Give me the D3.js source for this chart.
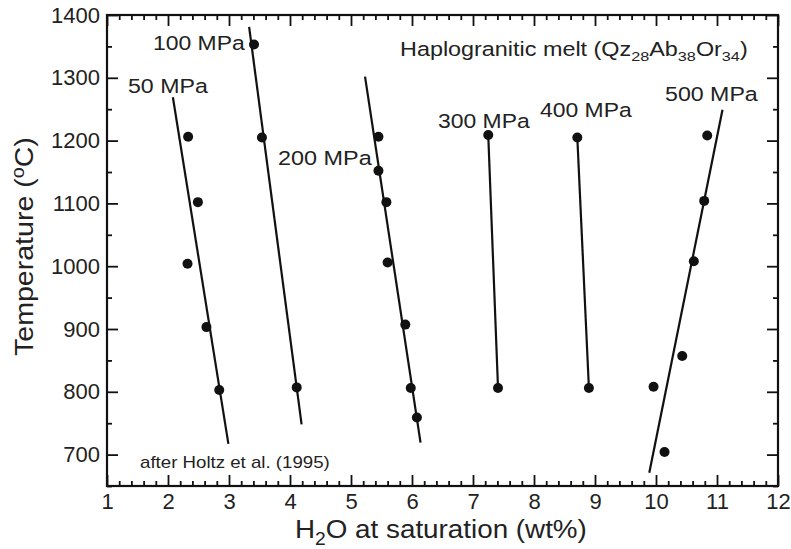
<!DOCTYPE html>
<html>
<head>
<meta charset="utf-8">
<script src="https://cdn.jsdelivr.net/npm/d3@7"></script>
<style>
  html, body { margin: 0; padding: 0; background: #fff; }
  svg { display: block; font-family: "Liberation Sans", Arial, Helvetica, sans-serif; }
</style>
</head>
<body>
<svg id="chart" width="791" height="549"></svg>
<script>
// ---------------- data ----------------
const xTickValues = [1, 2, 3, 4, 5, 6, 7, 8, 9, 10, 11, 12];
const yTickValues = [700, 800, 900, 1000, 1100, 1200, 1300, 1400];
const pressureLabels = ["50 MPa", "100 MPa", "200 MPa", "300 MPa", "400 MPa", "500 MPa"];

// measured points (H2O wt%, T °C)
const water50  = [2.33, 2.49, 2.32, 2.63, 2.84];
const temp50   = [1206, 1102, 1004, 903, 803];
const water100 = [3.41, 3.54, 4.11];
const temp100  = [1353, 1205, 807];
const water200 = [5.45, 5.45, 5.58, 5.60, 5.89, 5.98, 6.08];
const temp200  = [1206, 1152, 1102, 1006, 907, 806, 759];
const water300 = [7.25, 7.41];
const temp300  = [1209, 806];
const water400 = [8.71, 8.90];
const temp400  = [1205, 806];
const water500 = [10.84, 10.79, 10.62, 10.43, 9.96, 10.14];
const temp500  = [1208, 1104, 1008, 857, 808, 704];

// fitted lines: endpoints (H2O wt%, T °C)
const lineWater50  = [2.08, 2.99];  const lineTemp50  = [1269, 717];
const lineWater100 = [3.33, 4.19];  const lineTemp100 = [1381, 748];
const lineWater200 = [5.23, 6.14];  const lineTemp200 = [1302, 719];
const lineWater300 = [7.25, 7.41];  const lineTemp300 = [1209, 806];
const lineWater400 = [8.71, 8.90];  const lineTemp400 = [1205, 806];
const lineWater500 = [11.09, 9.89]; const lineTemp500 = [1249, 671];

const seriesWater = [water50, water100, water200, water300, water400, water500];
const seriesTemp  = [temp50, temp100, temp200, temp300, temp400, temp500];
const linesWater  = [lineWater50, lineWater100, lineWater200, lineWater300, lineWater400, lineWater500];
const linesTemp   = [lineTemp50, lineTemp100, lineTemp200, lineTemp300, lineTemp400, lineTemp500];

// ---------------- layout ----------------
const L = 107, R = 778, T = 15, B = 486;
const ink = "#111", textInk = "#222";

const svg = d3.select("#chart");
const x = d3.scaleLinear().domain([1, 12]).range([L, R]);
const y = d3.scaleLinear().domain([650, 1400]).range([B, T]);

const xMinor = d3.range(1, 12.001, 0.2).map(v => +v.toFixed(2)).filter(v => Math.abs(v - Math.round(v)) > 1e-6);
const yMinor = d3.range(650, 1400, 100);

function styleAxis(g) {
  g.select(".domain").remove();
  g.selectAll(".tick line").attr("stroke", ink).attr("stroke-width", 1.8);
  g.selectAll(".tick text").attr("fill", textInk).style("font-size", "22px")
    .style("font-family", '"Liberation Sans", Arial, sans-serif');
}

// bottom
svg.append("g").attr("transform", `translate(0,${B})`)
  .call(d3.axisBottom(x).tickValues(xTickValues).tickFormat(d3.format("d")).tickSize(-11).tickPadding(7))
  .call(styleAxis);
svg.append("g").attr("transform", `translate(0,${B})`)
  .call(d3.axisBottom(x).tickValues(xMinor).tickFormat("").tickSize(-5))
  .call(styleAxis);
// top
svg.append("g").attr("transform", `translate(0,${T})`)
  .call(d3.axisTop(x).tickValues(xTickValues).tickFormat("").tickSize(-11))
  .call(styleAxis);
svg.append("g").attr("transform", `translate(0,${T})`)
  .call(d3.axisTop(x).tickValues(xMinor).tickFormat("").tickSize(-5))
  .call(styleAxis);
// left
svg.append("g").attr("transform", `translate(${L},0)`)
  .call(d3.axisLeft(y).tickValues(yTickValues).tickFormat(d3.format("d")).tickSize(-11).tickPadding(7))
  .call(styleAxis);
svg.append("g").attr("transform", `translate(${L},0)`)
  .call(d3.axisLeft(y).tickValues(yMinor).tickFormat("").tickSize(-5))
  .call(styleAxis);
// right
svg.append("g").attr("transform", `translate(${R},0)`)
  .call(d3.axisRight(y).tickValues(yTickValues).tickFormat("").tickSize(-11))
  .call(styleAxis);
svg.append("g").attr("transform", `translate(${R},0)`)
  .call(d3.axisRight(y).tickValues(yMinor).tickFormat("").tickSize(-5))
  .call(styleAxis);

// frame
svg.append("rect").attr("x", L).attr("y", T).attr("width", R - L).attr("height", B - T)
  .attr("fill", "none").attr("stroke", ink).attr("stroke-width", 2.2);

// fitted lines
const lineGen = d3.line().x(d => x(d[0])).y(d => y(d[1]));
linesWater.forEach((ws, i) => {
  const pts = ws.map((w, j) => [w, linesTemp[i][j]]);
  svg.append("path").attr("d", lineGen(pts)).attr("fill", "none")
    .attr("stroke", ink).attr("stroke-width", 2.2);
});

// points
seriesWater.forEach((ws, i) => {
  svg.append("g").selectAll("circle").data(ws.map((w, j) => [w, seriesTemp[i][j]]))
    .join("circle").attr("cx", d => x(d[0])).attr("cy", d => y(d[1])).attr("r", 5)
    .attr("fill", ink);
});

// ---------------- text helper ----------------
function fitted(parent, x0, yb, width, build, rotate) {
  const g = parent.append("g")
    .attr("transform", `translate(${x0},${yb})` + (rotate ? ` rotate(${rotate})` : ""));
  const t = g.append("text").attr("x", 0).attr("y", 0).attr("fill", textInk);
  build(t);
  const w = t.node().getBBox().width;
  t.attr("transform", `scale(${width / w},1)`);
  return t;
}

// pressure labels: [left x, baseline y, width]
const labelPos = [[128, 93, 80], [153, 50, 92], [278, 165, 94], [438, 128, 92], [540, 117, 92], [665, 101, 93]];
pressureLabels.forEach((s, i) => {
  const p = labelPos[i];
  fitted(svg, p[0], p[1], p[2], t => t.style("font-size", "19.5px").text(s));
});

// composition label
fitted(svg, 400, 56, 348, t => {
  t.style("font-size", "19.5px");
  const parts = [["Haplogranitic melt (Qz", 0], ["28", 1], ["Ab", 0], ["38", 1], ["Or", 0], ["34", 1], [")", 0]];
  parts.forEach(([s, sub]) => {
    t.append("tspan").text(s)
      .style("font-size", sub ? "13.5px" : "19.5px")
      .attr("baseline-shift", sub ? "-5px" : null);
  });
});

// source note
fitted(svg, 140, 468, 190, t => t.style("font-size", "16px").text("after Holtz et al. (1995)"));

// x axis title
fitted(svg, 295, 538, 292, t => {
  t.style("font-size", "26px");
  t.append("tspan").text("H");
  t.append("tspan").text("2").style("font-size", "18px").attr("baseline-shift", "-7px");
  t.append("tspan").text("O at saturation (wt%)");
});

// y axis title
fitted(svg, 33, 356, 219, t => {
  t.style("font-size", "26px");
  t.append("tspan").text("Temperature (");
  t.append("tspan").text("o").style("font-size", "18px").attr("baseline-shift", "9px");
  t.append("tspan").text("C)");
}, -90);
</script>
</body>
</html>
